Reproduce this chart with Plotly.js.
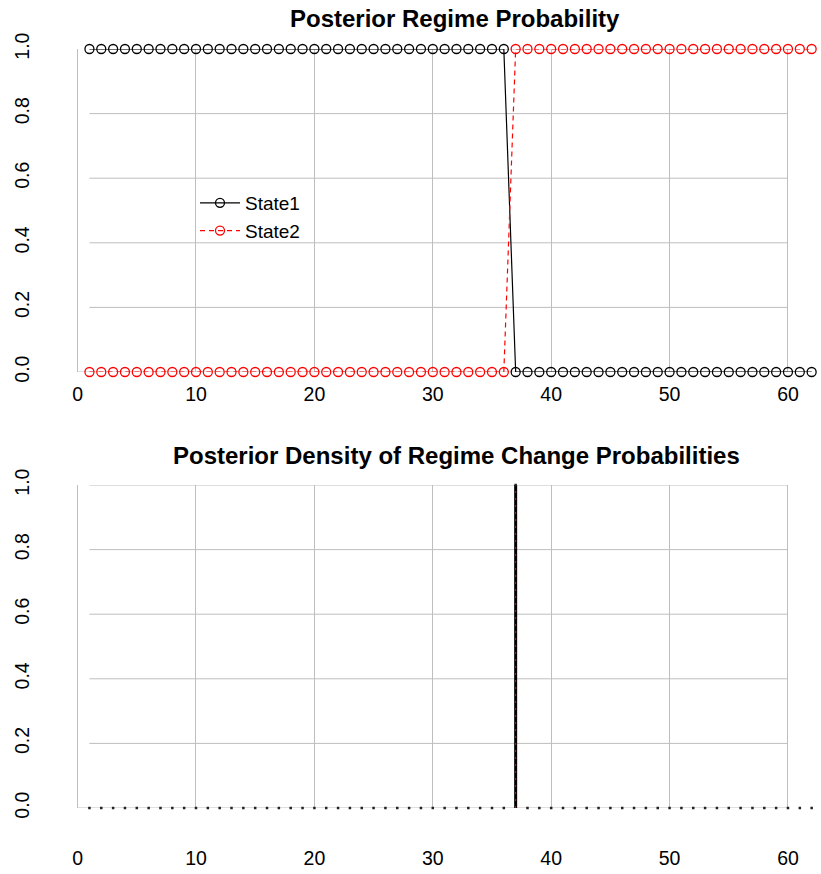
<!DOCTYPE html>
<html>
<head>
<meta charset="utf-8">
<script src="https://cdn.plot.ly/plotly-3.0.1.min.js"></script>
<style>html,body{margin:0;padding:0;background:#fff;}#chart{width:821px;height:874px;}</style>
</head>
<body>
<div id="chart"></div>
<script>
// ---- data ----
const timeIdx = [1,2,3,4,5,6,7,8,9,10,11,12,13,14,15,16,17,18,19,20,21,22,23,24,25,26,27,28,29,30,31,32,33,34,35,36,37,38,39,40,41,42,43,44,45,46,47,48,49,50,51,52,53,54,55,56,57,58,59,60,61,62];
const state1 = [1,1,1,1,1,1,1,1,1,1,1,1,1,1,1,1,1,1,1,1,1,1,1,1,1,1,1,1,1,1,1,1,1,1,1,1,0,0,0,0,0,0,0,0,0,0,0,0,0,0,0,0,0,0,0,0,0,0,0,0,0,0];
const state2 = [0,0,0,0,0,0,0,0,0,0,0,0,0,0,0,0,0,0,0,0,0,0,0,0,0,0,0,0,0,0,0,0,0,0,0,0,1,1,1,1,1,1,1,1,1,1,1,1,1,1,1,1,1,1,1,1,1,1,1,1,1,1];
const changeDensity = [0,0,0,0,0,0,0,0,0,0,0,0,0,0,0,0,0,0,0,0,0,0,0,0,0,0,0,0,0,0,0,0,0,0,0,0,1,0,0,0,0,0,0,0,0,0,0,0,0,0,0,0,0,0,0,0,0,0,0,0,0,0];
const xTicks = [0,10,20,30,40,50,60];
const yTicks = [0,0.2,0.4,0.6,0.8,1.0];
const yTickText = ['0.0','0.2','0.4','0.6','0.8','1.0'];
const seriesNames = ['State1','State2'];
const titles = ['Posterior Regime Probability','Posterior Density of Regime Change Probabilities'];

// ---- style ----
const FONT = 'Liberation Sans, Arial, Helvetica, sans-serif';
const GRID = '#bebebe';

// spikes for the density plot (type "h")
const hx = [], hy = [];
timeIdx.forEach((t, i) => {
  if (changeDensity[i] > 0) { hx.push(t, t, null); hy.push(0, changeDensity[i], null); }
});

const traces = [
  {x: timeIdx, y: state1, name: seriesNames[0], type: 'scatter', mode: 'lines+markers',
   line: {color: '#000000', width: 1.2},
   marker: {symbol: 'circle-open', size: 9, color: '#000000', line: {width: 1.3, color: '#000000'}},
   cliponaxis: false, xaxis: 'x', yaxis: 'y'},
  {x: timeIdx, y: state2, name: seriesNames[1], type: 'scatter', mode: 'lines+markers',
   line: {color: '#ff0000', width: 1.2, dash: '5px,4px'},
   marker: {symbol: 'circle-open', size: 9, color: '#ff0000', line: {width: 1.3, color: '#ff0000'}},
   cliponaxis: false, xaxis: 'x', yaxis: 'y'},
  {x: hx, y: hy, type: 'scatter', mode: 'lines', showlegend: false, hoverinfo: 'skip',
   line: {color: '#000000', width: 3}, cliponaxis: false, xaxis: 'x2', yaxis: 'y2'},
  {x: hx, y: hy, type: 'scatter', mode: 'lines', showlegend: false, hoverinfo: 'skip',
   line: {color: '#ff0000', width: 1, dash: '2px,5px'}, cliponaxis: false, xaxis: 'x2', yaxis: 'y2'},
  {x: timeIdx, y: changeDensity, type: 'scatter', mode: 'markers', showlegend: false,
   marker: {symbol: 'square', size: 2.5, color: '#222222'}, cliponaxis: false, xaxis: 'x2', yaxis: 'y2'}
];

const xRange = [0, 62.79];
const xDom = [77.6/821, 1];
function xAxis(anchor, standoff) {
  return {domain: xDom, range: xRange, anchor: anchor, tickvals: xTicks, ticktext: xTicks.map(String),
    showgrid: true, gridcolor: GRID, gridwidth: 1, zeroline: false, showline: false, ticks: '',
    ticklabelstandoff: standoff, tickfont: {family: FONT, size: 19.5, color: '#000'}, fixedrange: true};
}
function yAxis(anchor, dom) {
  return {domain: dom, range: [0, 1], anchor: anchor, tickvals: yTicks, ticktext: yTickText,
    tickangle: -90, showgrid: false, zeroline: false, showline: true, linecolor: GRID, linewidth: 1,
    ticks: '', ticklabelstandoff: 40, tickfont: {family: FONT, size: 19.5, color: '#000'}, fixedrange: true};
}

const shapes = [];
[['x', 'y'], ['x2', 'y2']].forEach(([xr, yr]) => {
  yTicks.forEach(v => {
    if (v > 0) shapes.push({type: 'line', xref: xr, yref: yr, x0: 1, x1: 60, y0: v, y1: v,
      line: {color: GRID, width: 1}, layer: 'below'});
  });
  shapes.push({type: 'line', xref: xr, yref: yr, x0: 0, x1: 60, y0: 0, y1: 0,
    line: {color: GRID, width: 1}, layer: 'below'});
});

const layout = {
  width: 821, height: 874,
  margin: {l: 0, r: 0, t: 0, b: 0},
  paper_bgcolor: '#ffffff', plot_bgcolor: '#ffffff',
  font: {family: FONT, color: '#000'},
  showlegend: true,
  legend: {x: 195/821, y: 1 - 184/874, xanchor: 'left', yanchor: 'top', bgcolor: 'rgba(0,0,0,0)',
    borderwidth: 0, itemwidth: 40, font: {family: FONT, size: 19, color: '#000'}, tracegroupgap: 0},
  xaxis: xAxis('y', 8),
  yaxis: yAxis('x', [1 - 372/874, 1 - 49/874]),
  xaxis2: xAxis('y2', 36),
  yaxis2: yAxis('x2', [1 - 808/874, 1 - 485/874]),
  shapes: shapes,
  annotations: [
    {text: titles[0], xref: 'paper', yref: 'paper', x: 455/821, y: 1 - 18/874, xanchor: 'center', yanchor: 'middle',
     showarrow: false, font: {family: FONT, size: 24, weight: 'bold', color: '#000'}},
    {text: titles[1], xref: 'paper', yref: 'paper', x: 456/821, y: 1 - 455/874, xanchor: 'center', yanchor: 'middle',
     showarrow: false, font: {family: FONT, size: 24, weight: 'bold', color: '#000'}}
  ]
};

Plotly.newPlot('chart', traces, layout, {displayModeBar: false, staticPlot: true});
</script>
</body>
</html>
